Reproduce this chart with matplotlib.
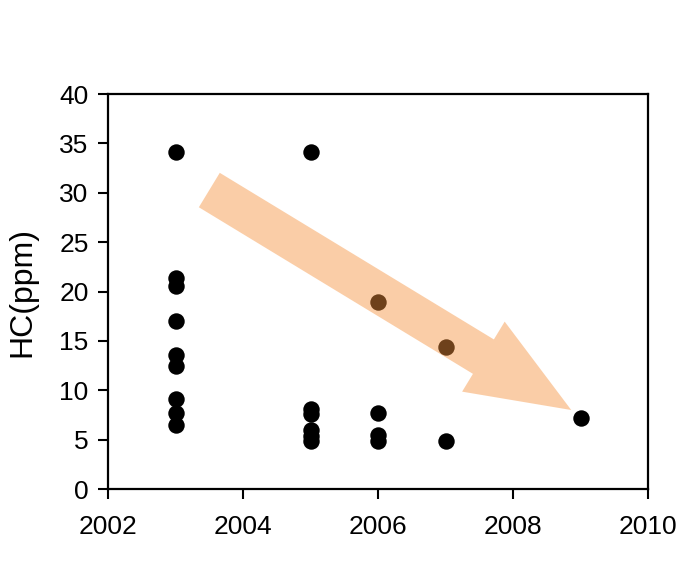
import matplotlib
matplotlib.use("Agg")
import matplotlib.pyplot as plt
from matplotlib.patches import FancyArrowPatch

plt.rcParams['font.family'] = ['Liberation Sans', 'DejaVu Sans']

years = [2003]*9 + [2005]*6 + [2006]*4 + [2007]*2 + [2009]
hc = [34.1, 21.4, 20.6, 17.0, 13.6, 12.5, 9.1, 7.7, 6.5,
      34.1, 8.1, 7.6, 6.0, 5.4, 4.9,
      18.9, 7.7, 5.5, 4.9,
      14.4, 4.9,
      7.2]

xticks = [2002, 2004, 2006, 2008, 2010]
yticks = [0, 5, 10, 15, 20, 25, 30, 35, 40]

fig = plt.figure(figsize=(6.97, 5.65), dpi=100)
ax = fig.add_axes([0.155, 0.1345, 0.775, 0.699])

ax.scatter(years, hc, s=140, color='black', zorder=2, linewidths=0)

arrow = FancyArrowPatch((2003.50, 30.28), (2008.86, 8.0),
                        arrowstyle='simple,head_length=74,head_width=59,tail_width=29',
                        mutation_scale=1, shrinkA=0, shrinkB=0,
                        color=(246/255, 145/255, 60/255), alpha=0.45,
                        linewidth=0, zorder=3)
ax.add_patch(arrow)

ax.set_xlim(2002, 2010)
ax.set_ylim(0, 40)
ax.set_xticks(xticks)
ax.set_yticks(yticks)
ax.tick_params(direction='out', length=7, width=1.5, labelsize=19, pad=7,
               top=False, right=False)
ax.tick_params(axis='x', pad=12)
for s in ax.spines.values():
    s.set_linewidth(1.6)
ax.set_ylabel('HC(ppm)', fontsize=23, labelpad=16)

fig.savefig('out.png', dpi=100)
